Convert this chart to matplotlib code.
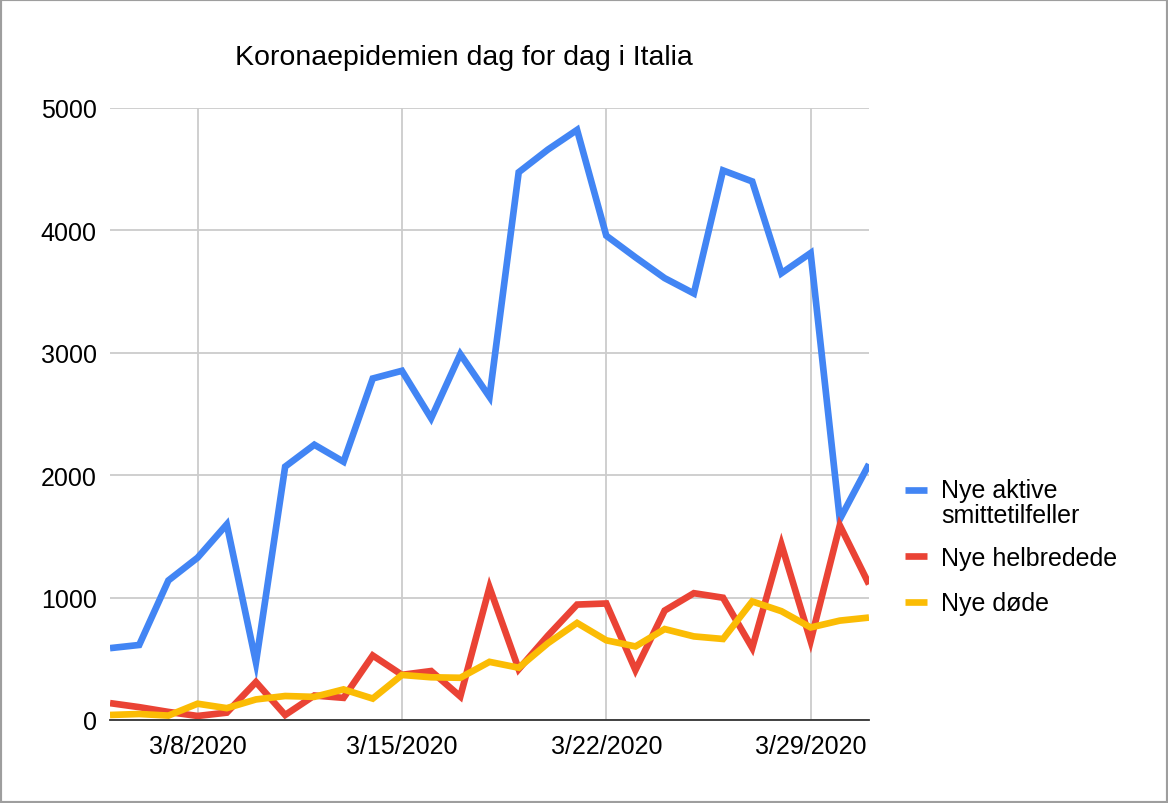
import datetime as dt

import matplotlib
matplotlib.use("Agg")
import matplotlib.pyplot as plt
import matplotlib.dates as mdates
import matplotlib.patches as mpatches
from matplotlib.lines import Line2D


# -----------------------------------------------------------------------------
# Data
# -----------------------------------------------------------------------------

start_day = dt.date(2020, 3, 5)
dates = [start_day + dt.timedelta(days=i) for i in range(27)]

new_active = [587, 613, 1140, 1326, 1598, 470, 2070, 2249, 2110, 2790, 2853,
              2465, 2989, 2640, 4475, 4660, 4821, 3957, 3780, 3610, 3485,
              4490, 4400, 3650, 3815, 1640, 2090]
new_recovered = [138, 105, 66, 33, 60, 310, 41, 200, 181, 527, 369, 400, 192,
                 1084, 415, 689, 943, 952, 408, 894, 1036, 999, 589, 1434,
                 646, 1590, 1109]
new_deaths = [41, 49, 36, 133, 97, 168, 196, 189, 250, 175, 368, 349, 345,
              475, 427, 627, 793, 651, 601, 743, 683, 662, 969, 889, 756,
              812, 837]

series_labels = ["Nye aktive\nsmittetilfeller", "Nye helbredede", "Nye døde"]
series_colors = ["#4285F4", "#EA4335", "#FBBC04"]
tick_dates = [dt.date(2020, 3, d) for d in (8, 15, 22, 29)]
y_ticks = [0, 1000, 2000, 3000, 4000, 5000]
title = "Koronaepidemien dag for dag i Italia"

plt.rcParams["font.family"] = ["Liberation Sans", "DejaVu Sans"]

W, H = 1168, 804
fig = plt.figure(figsize=(W / 100, H / 100), dpi=100)
ax = fig.add_axes([110 / W, 1 - 721 / H, (869 - 110) / W, (721 - 109) / H])

for values, color in zip([new_active, new_recovered, new_deaths], series_colors):
    ax.plot(dates, values, color=color, linewidth=4.8, solid_joinstyle="miter",
            solid_capstyle="butt", zorder=3)

ax.set_xlim(dates[0], dates[-1])
ax.set_ylim(0, 5000)
ax.set_xticks(tick_dates)
ax.xaxis.set_major_formatter(
    matplotlib.ticker.FuncFormatter(
        lambda v, _: "{d.month}/{d.day}/{d.year}".format(d=mdates.num2date(v))))
ax.set_yticks(y_ticks)
ax.tick_params(length=0, labelsize=18, colors="#000000")
ax.tick_params(axis="x", pad=10)
ax.tick_params(axis="y", pad=9.5)
ax.grid(True, color="#cccccc", linewidth=1.3, zorder=0)
for side in ("top", "right", "left"):
    ax.spines[side].set_visible(False)
ax.spines["bottom"].set_color("#333333")
ax.spines["bottom"].set_linewidth(1.3)
ax.spines["bottom"].set_zorder(4)

fig.text(235 / W, 1 - 65 / H, title, fontsize=20.5, ha="left", va="baseline")

# Legend drawn by hand so the swatch sits beside the first text line.
swatch_rows = [491, 557, 603]
baseline_rows = [498, 566, 611]
for label, color, ys, yb in zip(series_labels, series_colors, swatch_rows,
                                baseline_rows):
    yf = 1 - ys / H
    fig.add_artist(Line2D([905 / W, 927 / W], [yf, yf], color=color,
                          linewidth=4.8, solid_capstyle="butt"))
    first, *rest = label.split("\n")
    fig.text(941 / W, 1 - yb / H, first, fontsize=18, ha="left", va="baseline")
    for i, line in enumerate(rest, start=1):
        fig.text(941 / W, 1 - (yb + 25 * i) / H, line, fontsize=18,
                 ha="left", va="baseline")

fig.add_artist(mpatches.Rectangle((0, 0), 1, 1, transform=fig.transFigure,
                                  fill=False, edgecolor="#9e9e9e", linewidth=3))

fig.savefig("out.png", dpi=100)
